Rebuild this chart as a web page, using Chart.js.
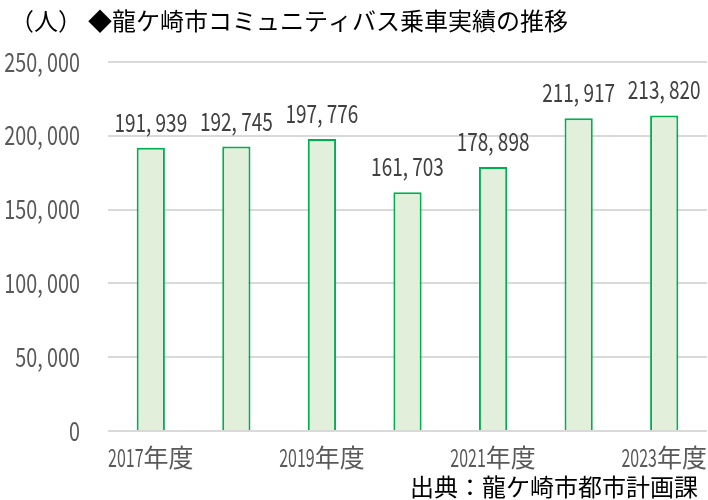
<!DOCTYPE html>
<html><head><meta charset="utf-8">
<script src="https://cdn.jsdelivr.net/npm/chart.js@4"></script>
<style>html,body{margin:0;padding:0;background:#fff}#wrap{width:708px;height:500px}</style>
</head><body><div id="wrap"><canvas id="c" width="708" height="500"></canvas></div>
<script>
const categories = ["2017年度","2018年度","2019年度","2020年度","2021年度","2022年度","2023年度"];
const riders = [191939, 192745, 197776, 161703, 178898, 211917, 213820];
const yTicks = [0, 50000, 100000, 150000, 200000, 250000];
const titleUnit = "（人）";
const titleText = "◆龍ケ崎市コミュニティバス乗車実績の推移";
const sourceText = "出典：龍ケ崎市都市計画課";

const JP = "'Noto Sans CJK JP', sans-serif";
const fmt = v => v.toLocaleString('en-US').replace(/,/g, ', ');

function drawScaled(ctx, text, x, y, align, sx) {
  const w = ctx.measureText(text).width * sx;
  const left = align === 'center' ? x - w / 2 : align === 'right' ? x - w : x;
  ctx.save();
  ctx.translate(left, y);
  ctx.scale(sx, 1);
  ctx.textAlign = 'left';
  ctx.fillText(text, 0, 0);
  ctx.restore();
}
function drawMixed(ctx, text, x, y, sx) {
  const m = text.match(/^(\d+)(.*)$/);
  const dW = ctx.measureText(m[1]).width * sx;
  const kW = ctx.measureText(m[2]).width;
  const left = x - (dW + kW) / 2;
  ctx.save();
  ctx.textAlign = 'left';
  ctx.translate(left, y);
  ctx.save(); ctx.scale(sx, 1); ctx.fillText(m[1], 0, 0); ctx.restore();
  ctx.fillText(m[2], dW, 0);
  ctx.restore();
}

const extras = {
  id: 'extras',
  afterDatasetsDraw(chart) {
    const ctx = chart.ctx;
    const meta = chart.getDatasetMeta(0);
    const ys = chart.scales.y, xs = chart.scales.x;
    ctx.save();
    ctx.textBaseline = 'alphabetic';
    ctx.font = "25px " + JP;
    ctx.fillStyle = "#404040";
    meta.data.forEach((bar, i) => {
      drawScaled(ctx, fmt(riders[i]), bar.x, bar.y - 16, 'center', 0.76);
    });
    ctx.font = "26px " + JP;
    ctx.fillStyle = "#595959";
    yTicks.forEach(v => {
      drawScaled(ctx, fmt(v), 80, ys.getPixelForValue(v) + 9.5, 'right', 0.76);
    });
    ctx.font = "25px " + JP;
    categories.forEach((c, i) => {
      if (i % 2 === 0) drawMixed(ctx, c, xs.getPixelForValue(i), 467, 0.64);
    });
    ctx.restore();
  },
  afterDraw(chart) {
    const ctx = chart.ctx;
    ctx.save();
    ctx.fillStyle = "#000";
    ctx.textBaseline = "middle";
    ctx.textAlign = "left";
    ctx.font = "24px " + JP;
    ctx.fillText(titleUnit, 10, 21);
    ctx.fillText(titleText, 88, 21);
    ctx.font = "24px " + JP;
    ctx.textAlign = "right";
    ctx.fillText(sourceText, 698, 487);
    ctx.restore();
  }
};

new Chart(document.getElementById('c'), {
  type: 'bar',
  data: {
    labels: categories,
    datasets: [{
      data: riders,
      backgroundColor: '#E2EFDA',
      borderColor: '#00B050',
      borderWidth: 2,
      borderSkipped: 'bottom',
      barPercentage: 0.66,
      categoryPercentage: 0.5
    }]
  },
  options: {
    responsive: false,
    animation: false,
    devicePixelRatio: 1,
    layout: { padding: { top: 62, right: 1, bottom: 69, left: 0 } },
    plugins: { legend: { display: false }, tooltip: { enabled: false }, title: { display: false } },
    scales: {
      x: {
        grid: { display: false },
        border: { display: false },
        ticks: { display: false },
        afterFit(s) { s.height = 0; }
      },
      y: {
        min: 0, max: 250000,
        afterBuildTicks(s) { s.ticks = yTicks.map(v => ({ value: v })); },
        grid: { color: '#D9D9D9', lineWidth: 2, drawTicks: false },
        border: { display: false },
        ticks: { display: false },
        afterFit(s) { s.width = 108; }
      }
    }
  },
  plugins: [extras]
});
</script></body></html>
